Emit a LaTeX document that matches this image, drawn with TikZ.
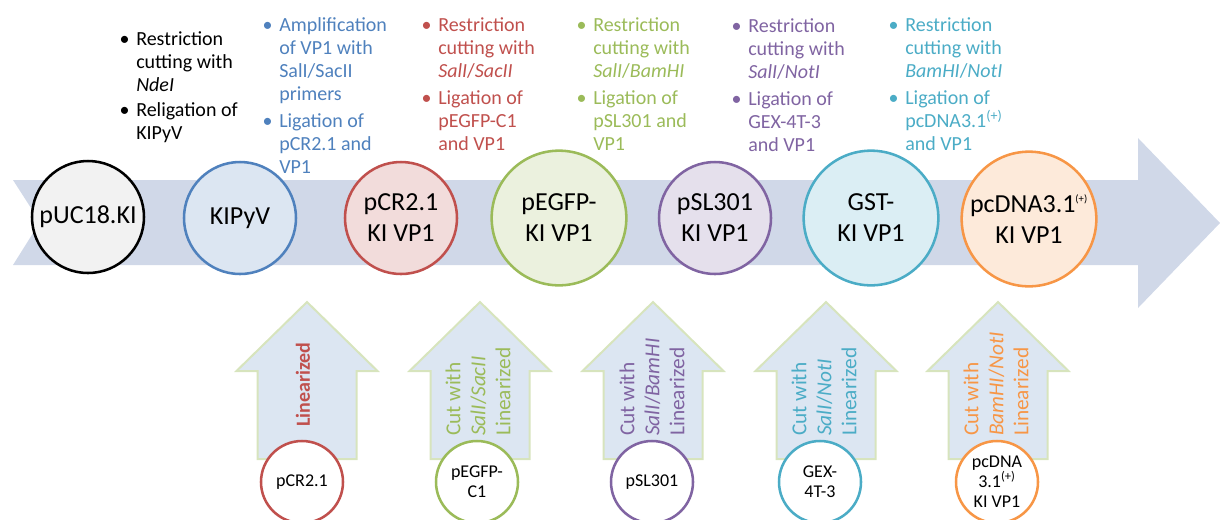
\documentclass[tikz,border=0pt]{standalone}
\usepackage{fontspec}
\setmainfont{Carlito}
\usepackage{tikz}
\definecolor{stepblue}{RGB}{79,129,189}
\definecolor{stepred}{RGB}{192,80,77}
\definecolor{stepgreen}{RGB}{155,187,89}
\definecolor{steppurple}{RGB}{128,100,162}
\definecolor{stepteal}{RGB}{75,172,198}
\definecolor{steporange}{RGB}{247,150,70}
\definecolor{fillgray}{RGB}{242,242,242}
\definecolor{fillblue}{RGB}{220,230,242}
\definecolor{fillred}{RGB}{242,220,219}
\definecolor{fillgreen}{RGB}{235,241,222}
\definecolor{fillpurple}{RGB}{229,224,236}
\definecolor{fillteal}{RGB}{219,238,244}
\definecolor{fillorange}{RGB}{253,234,218}
\definecolor{bandfill}{RGB}{208,216,232}
\definecolor{upfill}{RGB}{220,230,242}
\definecolor{upedge}{RGB}{215,228,189}
\tikzset{
  plasmid/.style={circle, draw, line width=1.9pt, inner sep=0pt, minimum size=84pt, align=center, font=\fontsize{19.5}{23.25}\selectfont},
  plasmidL/.style={plasmid, minimum size=101pt},
  vector/.style={circle, draw, fill=white, line width=1.9pt, inner sep=0pt, minimum size=61.5pt, align=center, font=\fontsize{13.5}{15}\selectfont},
  steptext/.style={anchor=north west, align=left, inner sep=0pt, font=\fontsize{15}{17.25}\selectfont},
  cuttext/.style={rotate=90, anchor=west, align=left, inner sep=0pt, font=\fontsize{16}{18.75}\selectfont},
  uparrow/.pic={\path[fill=upfill, draw=upedge, line width=1.5pt] (0,302) -- (70.5,371) -- (49.5,371) -- (49.5,459) -- (-49.5,459) -- (-49.5,371) -- (-70.5,371) -- cycle;},
}
\newcommand{\bul}{\llap{\textbullet\hspace{5pt}}}

\begin{document}
\begin{tikzpicture}[x=0.75pt, y=-0.75pt]
\useasboundingbox (0,0) rectangle (1220,519);
% main arrow
\path[fill=bandfill] (13,180) -- (1138,180) -- (1138,138) -- (1220,223) -- (1138,308) -- (1138,265) -- (13,265) -- (40,222) -- cycle;

% constructs
\node (puc) [plasmid, draw=black, fill=fillgray] at (88,217) {pUC18.KI};
\node (kipyv) [plasmid, draw=stepblue, fill=fillblue] at (240,218) {KIPyV};
\node (pcr) [plasmid, draw=stepred, fill=fillred] at (401,218) {pCR2.1\\KI VP1};
\node (pegfp) [plasmidL, draw=stepgreen, fill=fillgreen] at (559,218) {pEGFP-\\KI VP1};
\node (psl) [plasmid, draw=steppurple, fill=fillpurple] at (715,218) {pSL301\\KI VP1};
\node (gst) [plasmidL, draw=stepteal, fill=fillteal] at (871,218) {GST-\\KI VP1};
\node (pcdna) [plasmidL, draw=steporange, fill=fillorange] at (1029,219) {pcDNA3.1\textsuperscript{\fontsize{8}{8}\selectfont(+)}\\KI VP1};

% steps
\node (txtpuc) [steptext] at (136,31) {\bul Restriction\\cutting with\\\textit{NdeI}\\[2pt]\bul Religation of\\KIPyV};
\node (txtkipyv) [steptext, text=stepblue] at (279,17) {\bul Amplification\\of VP1 with\\SalI/SacII\\primers\\[3pt]\bul Ligation of\\pCR2.1 and\\VP1};
\node (txtpcr) [steptext, text=stepred] at (438,17) {\bul Restriction\\cutting with\\\textit{SalI}/\textit{SacII}\\[3pt]\bul Ligation of\\pEGFP-C1\\and VP1};
\node (txtpegfp) [steptext, text=stepgreen] at (593,17) {\bul Restriction\\cutting with\\\textit{SalI}/\textit{BamHI}\\[3pt]\bul Ligation of\\pSL301 and\\VP1};
\node (txtpsl) [steptext, text=steppurple] at (748,18) {\bul Restriction\\cutting with\\\textit{SalI}/\textit{NotI}\\[3pt]\bul Ligation of\\GEX-4T-3\\and VP1};
\node (txtgst) [steptext, text=stepteal] at (905,17) {\bul Restriction\\cutting with\\\textit{BamHI}/\textit{NotI}\\[3pt]\bul Ligation of\\pcDNA3.1\textsuperscript{(+)}\\and VP1};

% inserts
\pic at (307,0) {uparrow};
\pic at (480,0) {uparrow};
\pic at (653,0) {uparrow};
\pic at (826,0) {uparrow};
\pic at (998,0) {uparrow};
\node (cutpcr) [cuttext, text=stepred, font=\fontsize{15}{18.75}\selectfont\bfseries] at (303,427) {Linearized};
\node (cutpegfp) [cuttext, text=stepgreen] at (478,436) {Cut with\\\textit{SalI}/\textit{SacII}\\Linearized};
\node (cutpsl) [cuttext, text=steppurple] at (652,436) {Cut with\\\textit{SalI}/\textit{BamHI}\\Linearized};
\node (cutgex) [cuttext, text=stepteal] at (824,436) {Cut with\\\textit{SalI}/\textit{NotI}\\Linearized};
\node (cutpcdna) [cuttext, text=steporange] at (996,436) {Cut with\\\textit{BamHI}/\textit{NotI}\\Linearized};
\node (vpcr) [vector, draw=stepred] at (302,482) {pCR2.1};
\node (vpegfp) [vector, draw=stepgreen] at (477,482) {pEGFP-\\C1};
\node (vpsl) [vector, draw=steppurple] at (652,482) {pSL301};
\node (vgex) [vector, draw=stepteal] at (820,482) {GEX-\\4T-3};
\node (vpcdna) [vector, draw=steporange] at (997,482) {pcDNA\\3.1\textsuperscript{(+)}\\KI VP1};
\end{tikzpicture}
\end{document}
